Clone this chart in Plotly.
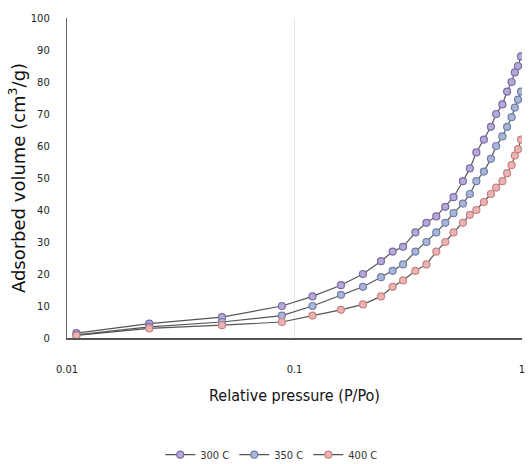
import plotly.graph_objects as go

pressure = [0.011, 0.023, 0.048, 0.088, 0.12, 0.16, 0.20, 0.24, 0.27, 0.30, 0.34, 0.38, 0.42,
            0.46, 0.50, 0.55, 0.59, 0.63, 0.68, 0.73, 0.77, 0.82, 0.86, 0.90, 0.93, 0.96, 0.99]
vol_300 = [1.5, 4.5, 6.5, 10, 13, 16.5, 20, 24, 27, 28.5, 33, 36, 38,
           41, 44, 49, 53, 58, 62, 66, 70, 73, 77, 80, 83, 85, 88]
vol_350 = [1.0, 3.5, 5, 7, 10, 13.5, 16, 19, 21, 23, 27, 30, 33,
           36, 39, 42, 45, 49, 52, 56, 60, 63, 66, 69, 72, 74.5, 77]
vol_400 = [0.8, 3, 4, 5, 7, 8.8, 10.5, 13, 16, 18, 21, 23, 27,
           30, 33, 36, 38.5, 40, 42.5, 45, 47, 49, 51.5, 54, 57, 59, 62]
series_names = ["300 C", "350 C", "400 C"]
x_ticks = [0.01, 0.1, 1]
x_tick_labels = ["0.01", "0.1", "1"]
y_ticks = [0, 10, 20, 30, 40, 50, 60, 70, 80, 90, 100]

fills = ["#b7a9d6", "#a9b6d8", "#eab4b4"]
edges = ["#7a6aa6", "#6f7fa8", "#c98282"]

fig = go.Figure()
for name, vals, fc, ec in zip(series_names, [vol_300, vol_350, vol_400], fills, edges):
    fig.add_trace(go.Scatter(
        x=pressure, y=vals, name=name, mode="lines+markers",
        line=dict(color="#555555", width=1.2),
        marker=dict(symbol="circle", size=7, color=fc, line=dict(color=ec, width=1.2)),
    ))

tick_font = dict(family="DejaVu Sans Condensed, Liberation Sans Narrow, DejaVu Sans", size=11, color="#222222")

fig.update_layout(
    width=530, height=464,
    margin=dict(l=67, r=8, t=18, b=126),
    paper_bgcolor="white", plot_bgcolor="white",
    showlegend=True,
    legend=dict(orientation="h", x=0.45, xanchor="center",
                yref="container", y=0.02, yanchor="middle",
                font=dict(family="DejaVu Sans Condensed, DejaVu Sans", size=11, color="#333333"),
                itemwidth=30, tracegroupgap=0),
    font=dict(family="DejaVu Sans", color="#222222"),
)
fig.update_xaxes(
    type="log", range=[-2, 0], tickvals=x_ticks, ticktext=x_tick_labels,
    showgrid=True, gridcolor="#eee6e6", gridwidth=1,
    showline=True, linecolor="#555555", linewidth=1.5,
    ticks="", ticklabelstandoff=20, tickfont=tick_font, automargin=False,
    title=dict(text="Relative pressure (P/Po)", standoff=15,
               font=dict(family="DejaVu Sans Condensed, DejaVu Sans", size=16, color="#111111")),
    zeroline=False,
)
fig.update_yaxes(
    range=[0, 100], tickvals=y_ticks,
    showgrid=False, showline=True, linecolor="#666666", linewidth=1.2,
    ticks="", ticklabelstandoff=14, tickfont=tick_font, automargin=False,
    title=dict(text="Adsorbed volume (cm<sup>3</sup>/g)", standoff=0,
               font=dict(family="DejaVu Sans", size=18, color="#111111")),
    zeroline=False,
)

fig.write_html("out.html")
